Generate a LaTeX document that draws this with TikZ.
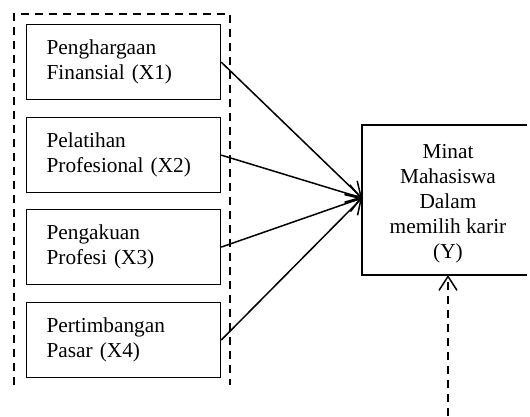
\documentclass[tikz,border=0pt]{standalone}
\usepackage{fontspec}
\setmainfont{Liberation Serif}
\usetikzlibrary{arrows.meta}
\begin{document}
\begin{tikzpicture}[x=1pt,y=-1pt,
  font=\fontsize{21.3pt}{25pt}\selectfont,
  xbox/.style={draw,line width=1.2pt,minimum width=194pt,minimum height=75pt,
    text width=154pt,align=left,inner xsep=20pt,anchor=north west},
  frame/.style={line width=1.2pt},
  ytext/.style={align=center},
  arr/.style={line width=1.5pt,-{Straight Barb[length=14pt,width=18pt,line width=1.5pt]}},
  dsh/.style={line width=1.5pt,dash pattern=on 8pt off 6pt}]
\path[use as bounding box] (0,0) rectangle (530,416);
\node[xbox] (x1) at (26,24) {Penghargaan\\Finansial (X1)};
\node[xbox] (x2) at (26,117) {Pelatihan\\Profesional (X2)};
\node[xbox] (x3) at (26,209) {Pengakuan\\Profesi (X3)};
\node[xbox] (x4) at (26,302) {Pertimbangan\\Pasar (X4)};
\coordinate (ytr) at (527,125);
\coordinate (ytl) at (362,125);
\coordinate (ybl) at (362,275);
\coordinate (ybr) at (527,275);
\draw[frame] (ytr) -- (ytl) -- (ybl) -- (ybr);
\node[ytext] (y) at (448,204) {Minat\\Mahasiswa\\Dalam\\memilih karir\\(Y)};
\coordinate (bl) at (14,385);
\coordinate (tl) at (14,14);
\coordinate (tr) at (230,14);
\coordinate (br) at (230,385);
\draw[dsh] (bl) -- (tl) -- (tr) -- (br);
\coordinate (yin) at (362,198);
\foreach \n in {x1,x2,x3,x4} \draw[arr] (\n.east) -- (yin);
\coordinate (src) at (448,416);
\coordinate (dst) at (448,275);
\draw[dsh,-{Straight Barb[length=14pt,width=18pt,line width=1.5pt]}] (src) -- (dst);
\end{tikzpicture}
\end{document}
